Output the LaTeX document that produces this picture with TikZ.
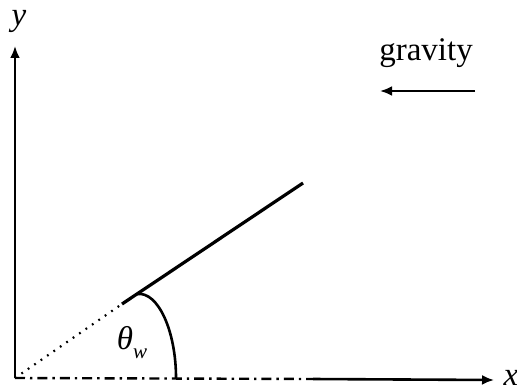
\documentclass[tikz,border=0pt]{standalone}
\usepackage{fontspec}
\setmainfont{Liberation Serif}
\usetikzlibrary{arrows.meta}
\begin{document}
\begin{tikzpicture}[x=0.5pt,y=-0.5pt,
  axis/.style={line width=1.3pt},
  tip/.style={-{Latex[length=6pt,width=5pt]}},
  lbl/.style={inner sep=0pt,font=\fontsize{16.5}{19}\selectfont},
  dashdot/.style={line width=1.2pt,dash pattern=on 5pt off 2.5pt on 1.2pt off 2.5pt},
  dotline/.style={line width=1.1pt,dash pattern=on 0.9pt off 3pt},
  wall/.style={line width=1.6pt}]
\useasboundingbox (0,0) rectangle (517,390);
\coordinate (O) at (15,378);
\coordinate (Yt) at (15,46);
\coordinate (M) at (313,379);
\coordinate (Xt) at (494,380);
\coordinate (P) at (122,304);
\coordinate (Q) at (303,183);
\coordinate (B) at (137,294);
\coordinate (A) at (176,378);
\coordinate (G1) at (475,91);
\coordinate (G2) at (380,91);
% axes
\draw[axis,tip] (O) -- (Yt);
\draw[dashdot] (O) -- (M);
\draw[axis,tip] (M) -- (Xt);
% wall line
\draw[dotline] (O) -- (P);
\draw[wall] (P) -- (Q);
% angle arc
\draw[line width=1.3pt] (B) .. controls (158,291) and (176,331) .. (A);
% gravity arrow
\draw[line width=1.2pt,tip] (G1) -- (G2);
% labels
\node[lbl] (ylab) at (19,21) {\textit{y}};
\node[lbl] (xlab) at (511,378) {\textit{x}};
\node[lbl] (grav) at (426,53) {gravity};
\node[lbl] (theta) at (132,343) {\textit{θ}\raisebox{-0.6ex}{\fontsize{10.5}{12}\selectfont\textit{w}}};
\end{tikzpicture}
\end{document}
